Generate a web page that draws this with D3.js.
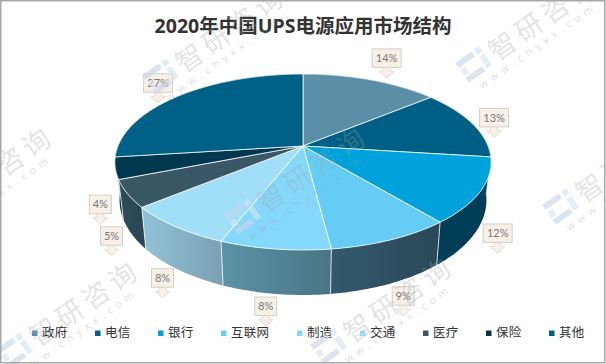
<!DOCTYPE html>
<html><head><meta charset="utf-8">
<script src="https://cdn.jsdelivr.net/npm/d3@7"></script>
<style>html,body{margin:0;padding:0;background:#fff}svg{display:block}</style>
</head><body><svg id="c" width="606" height="364"></svg>
<script>
const chartTitle = "2020年中国UPS电源应用市场结构";
const categories = ["政府","电信","银行","互联网","制造","交通","医疗","保险","其他"];
const shares = [14,13,12,9,8,8,5,4,27];
const faceColors = ["#5b8fa8","#005f84","#00a2dc","#65cdf5","#86d8fa","#a1dff8","#3a5765","#003850","#016085"];
const wallLeft  = ["#3a6b80","#003e58","#003e58","#33596d","#5b93a8","#92c2d6","#2e4c5c","#01374f","#014a68"];
const wallRight = ["#3a6b80","#003e58","#003e58","#2a4858","#4a7585","#7b9fb3","#2a4553","#01374f","#014a68"];
const calloutDx = [16,22,17,12,-9,-13,-16,-15,-21];
const calloutDy = [-2,14,62,76,77,71,62,56,7];
const watermarkAnchors = [[163,75],[476,63],[-69,215],[245,215],[563,205],[17,349],[331,345]];

const W=606,H=364;
const svg=d3.select("#c");
const defs=svg.append("defs");
svg.append("rect").attr("width",W).attr("height",H).attr("fill","#fff");

// perspective projection of the pie disc
const cx=303,cy=146,A=85.09,B=185,k=-0.1818,wallD=36.8,wallScale=0.975;
const top3=(t)=>{const u=Math.sin(t),v=-Math.cos(t),d=1+k*v;return [cx+B*u/d,cy+A*v/d,d];};
const bot3=(t)=>{const [x,y,d]=top3(t);return [cx+(x-cx)*wallScale,y+wallD/d];};
const arcs=d3.pie().sort(null).value(d=>d)(shares);
const samples=(a,b)=>d3.range(0,1.0001,1/Math.max(2,Math.ceil((b-a)/0.02))).map(f=>a+(b-a)*f);
const line=d3.line();

const gWall=svg.append("g"), gFace=svg.append("g");
arcs.forEach((s,i)=>{
  const g=defs.append("linearGradient").attr("id","w"+i);
  g.append("stop").attr("offset","0").attr("stop-color",wallLeft[i]);
  g.append("stop").attr("offset","1").attr("stop-color",wallRight[i]);
});
// walls painted from the back of the disc to the front
d3.range(arcs.length).sort((a,b)=>
  Math.cos((arcs[b].startAngle+arcs[b].endAngle)/2)-Math.cos((arcs[a].startAngle+arcs[a].endAngle)/2))
 .forEach(i=>{
  const s=arcs[i],ts=samples(s.startAngle,s.endAngle);
  const pts=ts.map(t=>top3(t).slice(0,2)).concat(ts.slice().reverse().map(bot3));
  gWall.append("path").attr("d",line(pts)+"Z").attr("fill",`url(#w${i})`);
});
arcs.forEach(s=>{
  const t=s.startAngle,p=top3(t),q=bot3(t);
  if(Math.cos(t)<0.05) gWall.append("line").attr("x1",p[0]).attr("y1",p[1]).attr("x2",q[0]).attr("y2",q[1])
    .attr("stroke","#fff").attr("stroke-opacity",.75).attr("stroke-width",1);
});
arcs.forEach((s,i)=>{
  const ts=samples(s.startAngle,s.endAngle);
  const pts=[[cx,cy]].concat(ts.map(t=>top3(t).slice(0,2)));
  gFace.append("path").attr("d",line(pts)+"Z").attr("fill",faceColors[i])
    .attr("stroke","#fff").attr("stroke-opacity",.85).attr("stroke-width",.9).attr("stroke-linejoin","round");
});

// callouts
const gCall=svg.append("g");
arcs.forEach((s,i)=>{
  const m=(s.startAngle+s.endAngle)/2,p=top3(m);
  const tx=p[0]+calloutDx[i],ty=p[1]+calloutDy[i];
  const label=shares[i]+"%";
  const w=label.length>2?29:22,h=18.5,ah=10.5,bot=ty-ah,topY=bot-h;
  const arrow=[[tx-3.5,bot],[tx-3.5,bot+4],[tx-7.5,bot+4],[tx,ty],[tx+7.5,bot+4],[tx+3.5,bot+4],[tx+3.5,bot]];
  gCall.append("path").attr("d",line(arrow)).attr("fill","#f8efe7").attr("stroke","#e2ddd7").attr("stroke-width",1);
  gCall.append("rect").attr("x",tx-w/2).attr("y",topY).attr("width",w).attr("height",h)
    .attr("fill","#f8efe7").attr("stroke","#d2cfcb").attr("stroke-width",1);
  gCall.append("text").attr("x",tx).attr("y",topY+h/2+4).attr("text-anchor","middle")
    .attr("font-family","Lato,'Open Sans',sans-serif").attr("font-size",11).attr("fill","#77777f").text(label);
});

// title
svg.append("text").attr("x",303).attr("y",33).attr("text-anchor","middle")
  .attr("font-family","'Open Sans','Noto Sans CJK SC',sans-serif").attr("font-weight",700)
  .attr("font-size",19.5).attr("fill","#333").text(chartTitle);

// legend
let lx=32;
const gLeg=svg.append("g");
categories.forEach((c,i)=>{
  gLeg.append("rect").attr("x",lx).attr("y",330.5).attr("width",5.5).attr("height",5.5).attr("fill",faceColors[i]);
  gLeg.append("text").attr("x",lx+10).attr("y",337).attr("font-family","'Noto Sans CJK SC',sans-serif")
    .attr("font-size",12.5).attr("fill","#333").attr("letter-spacing",.3).text(c);
  lx+=37+13*c.length;
});

// watermarks
const gMark=svg.append("g");
watermarkAnchors.forEach(([x,y])=>{
  const g=gMark.append("g").attr("transform",`translate(${x},${y}) rotate(-35)`);
  [[-17,-12,20,6,"#c9d6e8"],[-17,-3,6,7,"#d8e4f2"],[-17,6,20,6,"#c9d6e8"],[6,-12,6,6,"#cfe3f4"],[6,-3,6,14,"#d3e4f3"]]
    .forEach(r=>g.append("rect").attr("x",r[0]).attr("y",r[1]).attr("width",r[2]).attr("height",r[3]).attr("fill",r[4]).attr("opacity",.65));
  g.append("text").attr("x",18).attr("y",11).attr("font-family","'Noto Sans CJK SC',sans-serif")
    .attr("font-size",27).attr("font-weight",400).attr("letter-spacing",5).attr("fill","#9aa0aa").attr("fill-opacity",.3).text("智研咨询");
  g.append("text").attr("x",-10).attr("y",25).attr("font-family","'Open Sans',sans-serif")
    .attr("font-size",10.5).attr("letter-spacing",4.8).attr("fill","#9aa0aa").attr("fill-opacity",.36).text("www.chyxx.com");
});

svg.append("rect").attr("x",.75).attr("y",.75).attr("width",604).attr("height",362)
  .attr("fill","none").attr("stroke","#a8a8a8").attr("stroke-width",1.5);
</script></body></html>
